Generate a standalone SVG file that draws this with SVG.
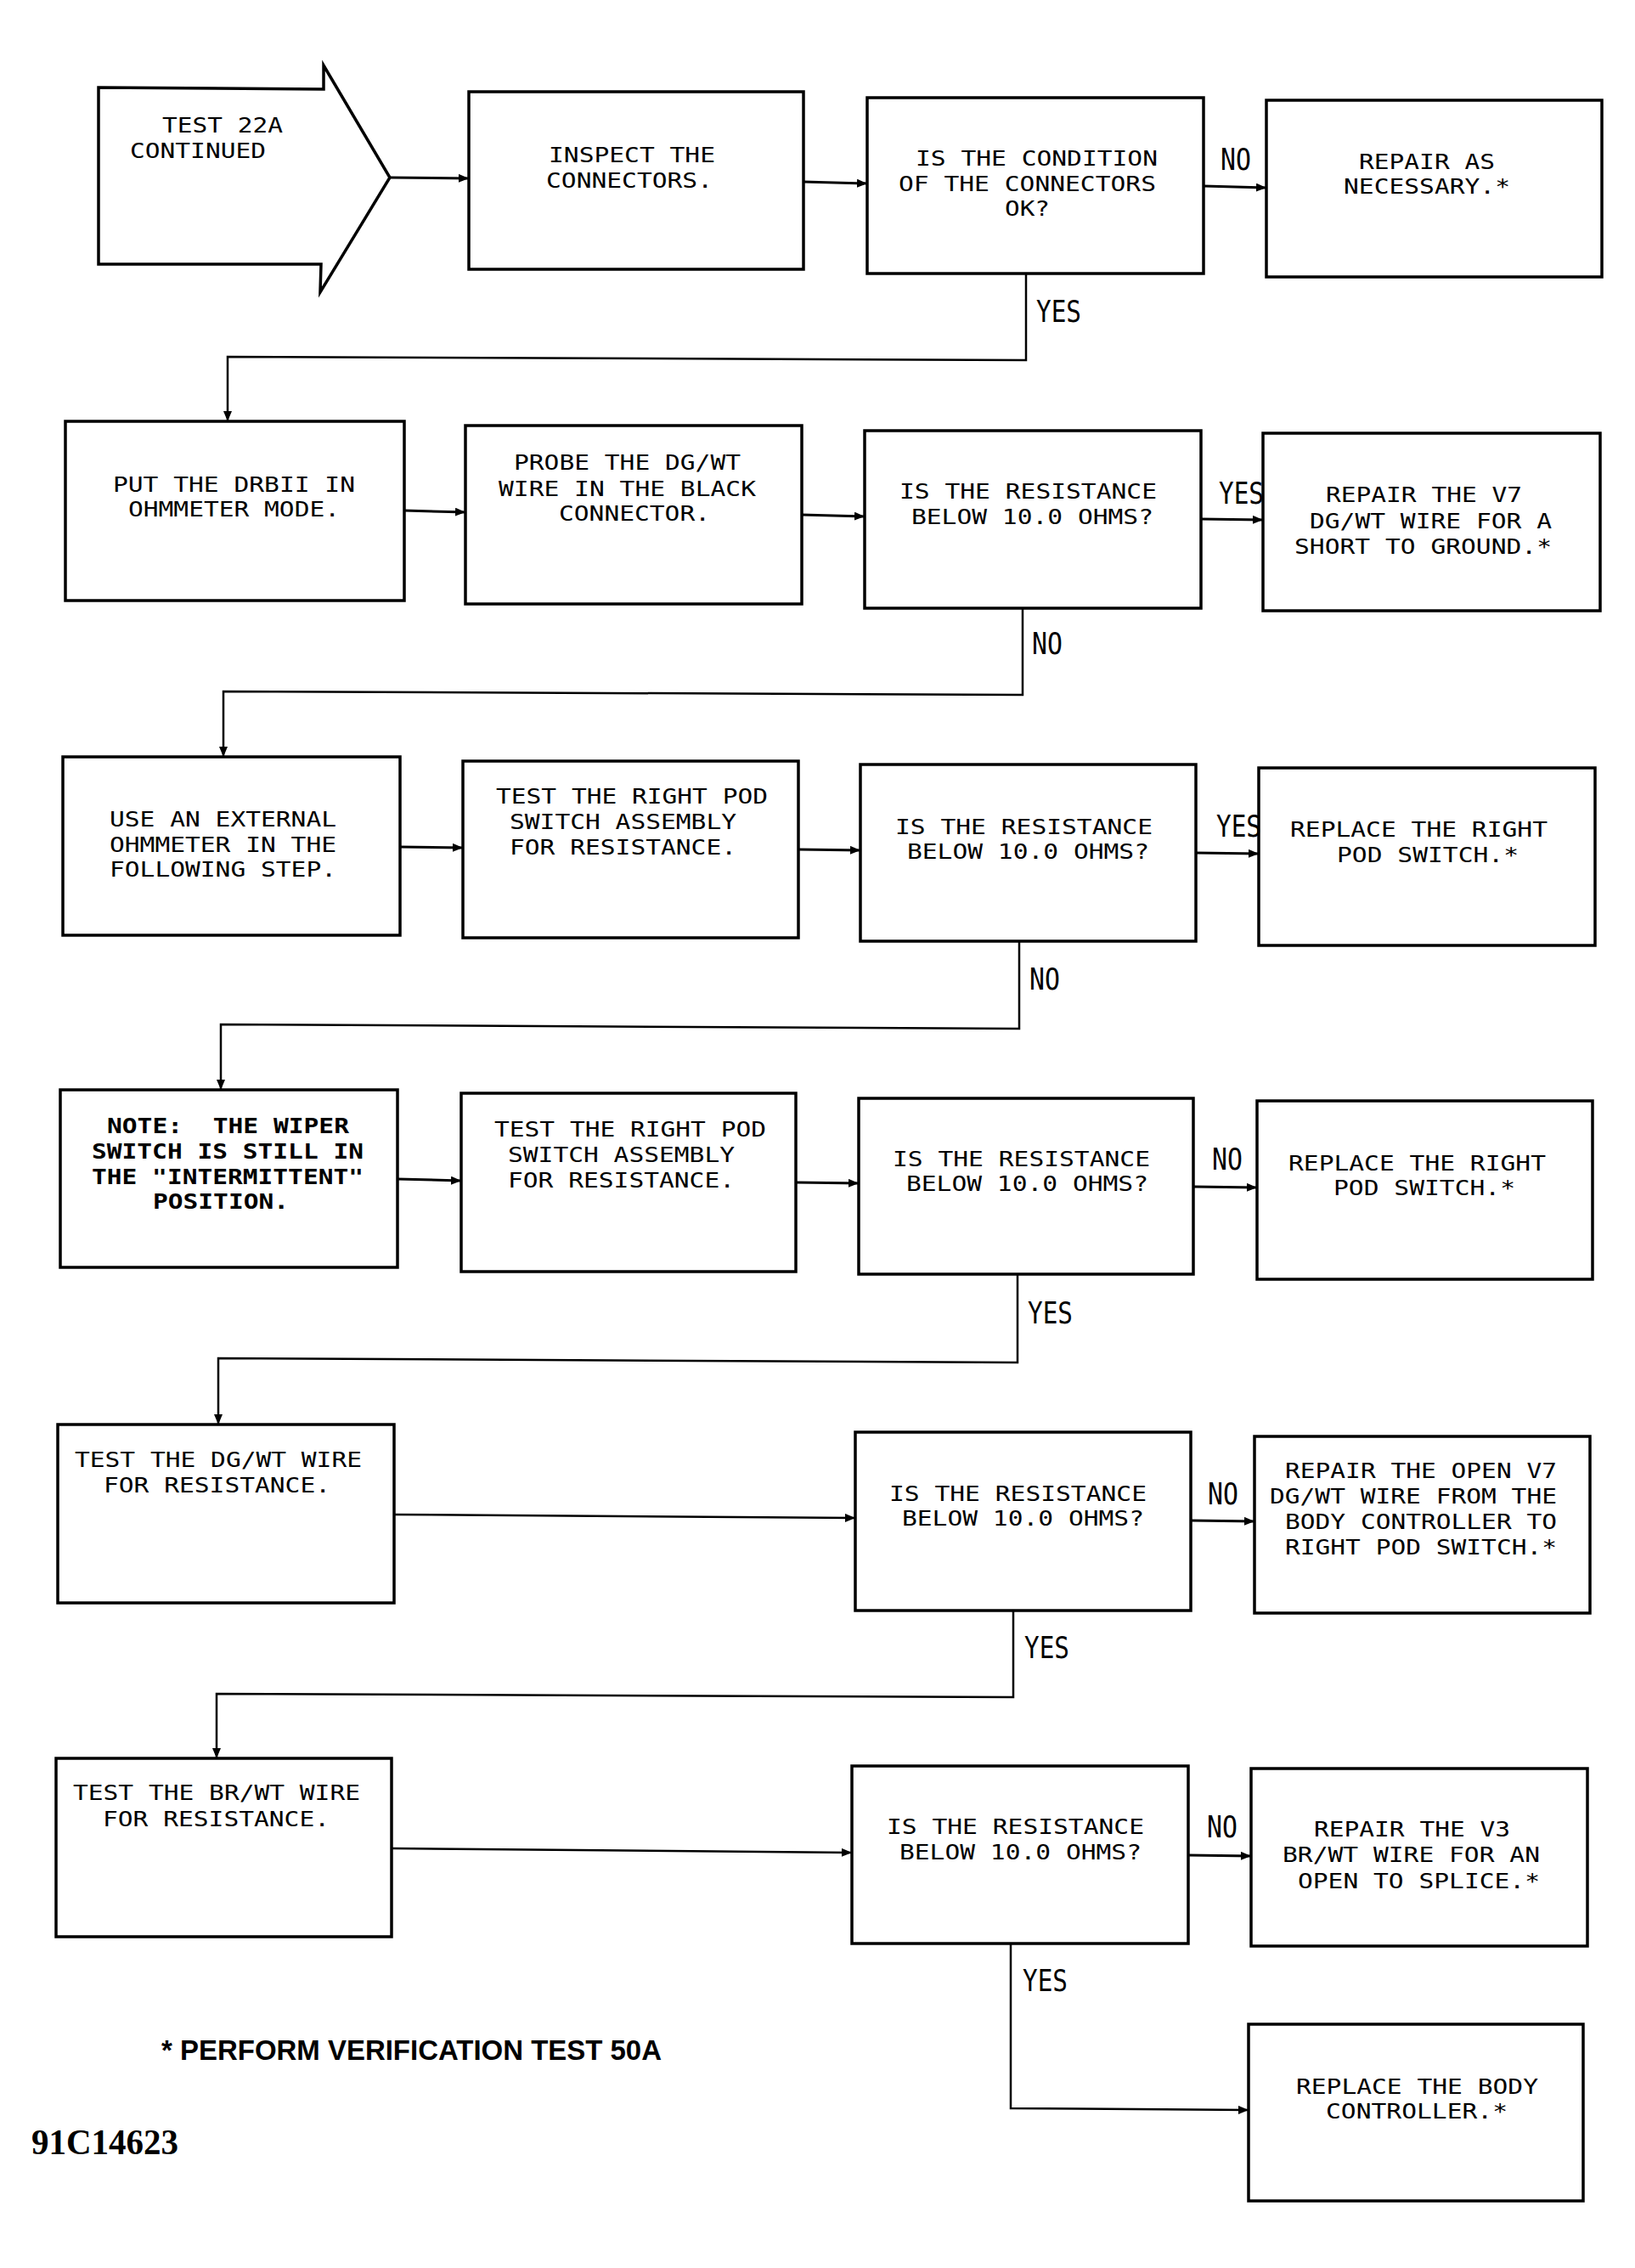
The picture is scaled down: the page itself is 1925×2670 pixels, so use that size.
<svg xmlns="http://www.w3.org/2000/svg" width="1925" height="2670" viewBox="0 0 1925 2670">
<defs>
<marker id="ah" viewBox="0 0 12 10" refX="12" refY="5" markerWidth="12" markerHeight="10" markerUnits="userSpaceOnUse" orient="auto">
<path d="M0,0 L12,5 L0,10 z" fill="#000"/>
</marker>
</defs>
<style>
.n rect,.n polygon{fill:#fff;stroke:#000;stroke-width:3.5}
.c line,.c polyline{fill:none;stroke:#000;stroke-width:3;marker-end:url(#ah)}
.c .r{stroke-width:2.5}
text{font-family:"DejaVu Sans Mono","Liberation Mono",monospace;font-size:24.5px;fill:#000}
.b{font-weight:bold}
.lbl{font-size:35px}
</style>
<rect x="0" y="0" width="1925" height="2670" style="fill:#fff;stroke:none"/>

<g id="n1" class="n">
<polygon points="116,103 381,105 381,77 459,209 377,344 378,311 116,311"/>
<text x="191" y="156" textLength="142" lengthAdjust="spacingAndGlyphs">TEST 22A</text>
<text x="153" y="186" textLength="160" lengthAdjust="spacingAndGlyphs">CONTINUED</text>
</g>
<g id="n2" class="n">
<rect x="552" y="108" width="394" height="209"/>
<text x="646" y="191" textLength="196" lengthAdjust="spacingAndGlyphs">INSPECT THE</text>
<text x="643" y="221" textLength="196" lengthAdjust="spacingAndGlyphs">CONNECTORS.</text>
</g>
<g id="n3" class="n">
<rect x="1021" y="115" width="396" height="207"/>
<text x="1078" y="195" textLength="285" lengthAdjust="spacingAndGlyphs">IS THE CONDITION</text>
<text x="1058" y="225" textLength="303" lengthAdjust="spacingAndGlyphs">OF THE CONNECTORS</text>
<text x="1183" y="254" textLength="53" lengthAdjust="spacingAndGlyphs">OK?</text>
</g>
<g id="n4" class="n">
<rect x="1491" y="118" width="395" height="208"/>
<text x="1600" y="199" textLength="160" lengthAdjust="spacingAndGlyphs">REPAIR AS</text>
<text x="1582" y="228" textLength="196" lengthAdjust="spacingAndGlyphs">NECESSARY.*</text>
</g>

<g id="n5" class="n">
<rect x="77" y="496" width="399" height="211"/>
<text x="133" y="579" textLength="285" lengthAdjust="spacingAndGlyphs">PUT THE DRBII IN</text>
<text x="151" y="608" textLength="249" lengthAdjust="spacingAndGlyphs">OHMMETER MODE.</text>
</g>
<g id="n6" class="n">
<rect x="548" y="501" width="396" height="210"/>
<text x="605" y="553" textLength="267" lengthAdjust="spacingAndGlyphs">PROBE THE DG/WT</text>
<text x="587" y="584" textLength="303" lengthAdjust="spacingAndGlyphs">WIRE IN THE BLACK</text>
<text x="658" y="613" textLength="178" lengthAdjust="spacingAndGlyphs">CONNECTOR.</text>
</g>
<g id="n7" class="n">
<rect x="1018" y="507" width="396" height="209"/>
<text x="1059" y="587" textLength="303" lengthAdjust="spacingAndGlyphs">IS THE RESISTANCE</text>
<text x="1073" y="617" textLength="285" lengthAdjust="spacingAndGlyphs">BELOW 10.0 OHMS?</text>
</g>
<g id="n8" class="n">
<rect x="1487" y="510" width="397" height="209"/>
<text x="1561" y="591" textLength="231" lengthAdjust="spacingAndGlyphs">REPAIR THE V7</text>
<text x="1542" y="622" textLength="285" lengthAdjust="spacingAndGlyphs">DG/WT WIRE FOR A</text>
<text x="1524" y="652" textLength="303" lengthAdjust="spacingAndGlyphs">SHORT TO GROUND.*</text>
</g>

<g id="n9" class="n">
<rect x="74" y="891" width="397" height="210"/>
<text x="129" y="973" textLength="267" lengthAdjust="spacingAndGlyphs">USE AN EXTERNAL</text>
<text x="129" y="1003" textLength="267" lengthAdjust="spacingAndGlyphs">OHMMETER IN THE</text>
<text x="129" y="1032" textLength="267" lengthAdjust="spacingAndGlyphs">FOLLOWING STEP.</text>
</g>
<g id="n10" class="n">
<rect x="545" y="896" width="395" height="208"/>
<text x="584" y="946" textLength="320" lengthAdjust="spacingAndGlyphs">TEST THE RIGHT POD</text>
<text x="600" y="976" textLength="267" lengthAdjust="spacingAndGlyphs">SWITCH ASSEMBLY</text>
<text x="600" y="1006" textLength="267" lengthAdjust="spacingAndGlyphs">FOR RESISTANCE.</text>
</g>
<g id="n11" class="n">
<rect x="1013" y="900" width="395" height="208"/>
<text x="1054" y="982" textLength="303" lengthAdjust="spacingAndGlyphs">IS THE RESISTANCE</text>
<text x="1068" y="1011" textLength="285" lengthAdjust="spacingAndGlyphs">BELOW 10.0 OHMS?</text>
</g>
<g id="n12" class="n">
<rect x="1482" y="904" width="396" height="209"/>
<text x="1519" y="985" textLength="303" lengthAdjust="spacingAndGlyphs">REPLACE THE RIGHT</text>
<text x="1574" y="1015" textLength="214" lengthAdjust="spacingAndGlyphs">POD SWITCH.*</text>
</g>

<g id="n13" class="n">
<rect x="71" y="1283" width="397" height="209"/>
<text class="b" x="126" y="1334" textLength="285" lengthAdjust="spacingAndGlyphs" style="white-space:pre">NOTE:  THE WIPER</text>
<text class="b" x="108" y="1364" textLength="320" lengthAdjust="spacingAndGlyphs">SWITCH IS STILL IN</text>
<text class="b" x="108" y="1394" textLength="320" lengthAdjust="spacingAndGlyphs">THE "INTERMITTENT"</text>
<text class="b" x="180" y="1423" textLength="160" lengthAdjust="spacingAndGlyphs">POSITION.</text>
</g>
<g id="n14" class="n">
<rect x="543" y="1287" width="394" height="210"/>
<text x="582" y="1338" textLength="320" lengthAdjust="spacingAndGlyphs">TEST THE RIGHT POD</text>
<text x="598" y="1368" textLength="267" lengthAdjust="spacingAndGlyphs">SWITCH ASSEMBLY</text>
<text x="598" y="1398" textLength="267" lengthAdjust="spacingAndGlyphs">FOR RESISTANCE.</text>
</g>
<g id="n15" class="n">
<rect x="1011" y="1293" width="394" height="207"/>
<text x="1051" y="1373" textLength="303" lengthAdjust="spacingAndGlyphs">IS THE RESISTANCE</text>
<text x="1067" y="1402" textLength="285" lengthAdjust="spacingAndGlyphs">BELOW 10.0 OHMS?</text>
</g>
<g id="n16" class="n">
<rect x="1480" y="1296" width="395" height="210"/>
<text x="1517" y="1378" textLength="303" lengthAdjust="spacingAndGlyphs">REPLACE THE RIGHT</text>
<text x="1570" y="1407" textLength="214" lengthAdjust="spacingAndGlyphs">POD SWITCH.*</text>
</g>

<g id="n17" class="n">
<rect x="68" y="1677" width="396" height="210"/>
<text x="88" y="1727" textLength="338" lengthAdjust="spacingAndGlyphs">TEST THE DG/WT WIRE</text>
<text x="122" y="1757" textLength="267" lengthAdjust="spacingAndGlyphs">FOR RESISTANCE.</text>
</g>
<g id="n18" class="n">
<rect x="1007" y="1686" width="395" height="210"/>
<text x="1047" y="1767" textLength="303" lengthAdjust="spacingAndGlyphs">IS THE RESISTANCE</text>
<text x="1062" y="1796" textLength="285" lengthAdjust="spacingAndGlyphs">BELOW 10.0 OHMS?</text>
</g>
<g id="n19" class="n">
<rect x="1477" y="1691" width="395" height="208"/>
<text x="1513" y="1740" textLength="320" lengthAdjust="spacingAndGlyphs">REPAIR THE OPEN V7</text>
<text x="1495" y="1770" textLength="338" lengthAdjust="spacingAndGlyphs">DG/WT WIRE FROM THE</text>
<text x="1513" y="1800" textLength="320" lengthAdjust="spacingAndGlyphs">BODY CONTROLLER TO</text>
<text x="1513" y="1830" textLength="320" lengthAdjust="spacingAndGlyphs">RIGHT POD SWITCH.*</text>
</g>

<g id="n20" class="n">
<rect x="66" y="2070" width="395" height="210"/>
<text x="86" y="2119" textLength="338" lengthAdjust="spacingAndGlyphs">TEST THE BR/WT WIRE</text>
<text x="121" y="2150" textLength="267" lengthAdjust="spacingAndGlyphs">FOR RESISTANCE.</text>
</g>
<g id="n21" class="n">
<rect x="1003" y="2079" width="396" height="209"/>
<text x="1044" y="2159" textLength="303" lengthAdjust="spacingAndGlyphs">IS THE RESISTANCE</text>
<text x="1059" y="2189" textLength="285" lengthAdjust="spacingAndGlyphs">BELOW 10.0 OHMS?</text>
</g>
<g id="n22" class="n">
<rect x="1473" y="2082" width="396" height="209"/>
<text x="1547" y="2162" textLength="231" lengthAdjust="spacingAndGlyphs">REPAIR THE V3</text>
<text x="1510" y="2192" textLength="303" lengthAdjust="spacingAndGlyphs">BR/WT WIRE FOR AN</text>
<text x="1528" y="2223" textLength="285" lengthAdjust="spacingAndGlyphs">OPEN TO SPLICE.*</text>
</g>
<g id="n23" class="n">
<rect x="1470" y="2383" width="394" height="208"/>
<text x="1526" y="2465" textLength="285" lengthAdjust="spacingAndGlyphs">REPLACE THE BODY</text>
<text x="1561" y="2494" textLength="214" lengthAdjust="spacingAndGlyphs">CONTROLLER.*</text>
</g>

<g id="connectors" class="c">
<line x1="459" y1="209" x2="552" y2="210"/>
<line x1="946" y1="214" x2="1021" y2="216"/>
<line x1="1417" y1="219" x2="1491" y2="221"/>
<polyline class="r" points="1208,322 1208,424 268,420 268,496"/>
<line x1="476" y1="601" x2="548" y2="603"/>
<line x1="944" y1="606" x2="1018" y2="608"/>
<line x1="1414" y1="611" x2="1487" y2="612"/>
<polyline class="r" points="1204,716 1204,818 263,814 263,891"/>
<line x1="471" y1="997" x2="545" y2="998"/>
<line x1="940" y1="1000" x2="1013" y2="1001"/>
<line x1="1408" y1="1004" x2="1482" y2="1005"/>
<polyline class="r" points="1200,1108 1200,1211 260,1206 260,1283"/>
<line x1="468" y1="1388" x2="543" y2="1390"/>
<line x1="937" y1="1392" x2="1011" y2="1393"/>
<line x1="1405" y1="1397" x2="1480" y2="1398"/>
<polyline class="r" points="1198,1500 1198,1604 257,1599 257,1677"/>
<line class="r" x1="464" y1="1783" x2="1007" y2="1787"/>
<line x1="1402" y1="1790" x2="1477" y2="1791"/>
<polyline class="r" points="1193,1896 1193,1998 255,1994 255,2070"/>
<line class="r" x1="461" y1="2176" x2="1003" y2="2181"/>
<line x1="1399" y1="2184" x2="1473" y2="2185"/>
<polyline class="r" points="1190,2288 1190,2482 1470,2484"/>
</g>

<g id="labels">
<text class="lbl" x="1437" y="200" textLength="36" lengthAdjust="spacingAndGlyphs">NO</text>
<text class="lbl" x="1220" y="379" textLength="53" lengthAdjust="spacingAndGlyphs">YES</text>
<text class="lbl" x="1435" y="593" textLength="53" lengthAdjust="spacingAndGlyphs">YES</text>
<text class="lbl" x="1215" y="770" textLength="36" lengthAdjust="spacingAndGlyphs">NO</text>
<text class="lbl" x="1432" y="985" textLength="53" lengthAdjust="spacingAndGlyphs">YES</text>
<text class="lbl" x="1212" y="1165" textLength="36" lengthAdjust="spacingAndGlyphs">NO</text>
<text class="lbl" x="1427" y="1377" textLength="36" lengthAdjust="spacingAndGlyphs">NO</text>
<text class="lbl" x="1210" y="1558" textLength="53" lengthAdjust="spacingAndGlyphs">YES</text>
<text class="lbl" x="1422" y="1771" textLength="36" lengthAdjust="spacingAndGlyphs">NO</text>
<text class="lbl" x="1206" y="1952" textLength="53" lengthAdjust="spacingAndGlyphs">YES</text>
<text class="lbl" x="1421" y="2163" textLength="36" lengthAdjust="spacingAndGlyphs">NO</text>
<text class="lbl" x="1204" y="2344" textLength="53" lengthAdjust="spacingAndGlyphs">YES</text>
</g>

<text x="190" y="2425" textLength="589" lengthAdjust="spacingAndGlyphs" style="font-family:'Liberation Sans',Arial,sans-serif;font-weight:bold;font-size:33px">* PERFORM VERIFICATION TEST 50A</text>
<text x="37" y="2536" textLength="173" lengthAdjust="spacingAndGlyphs" style="font-family:'Liberation Serif','Times New Roman',serif;font-weight:bold;font-size:43px">91C14623</text>
</svg>
